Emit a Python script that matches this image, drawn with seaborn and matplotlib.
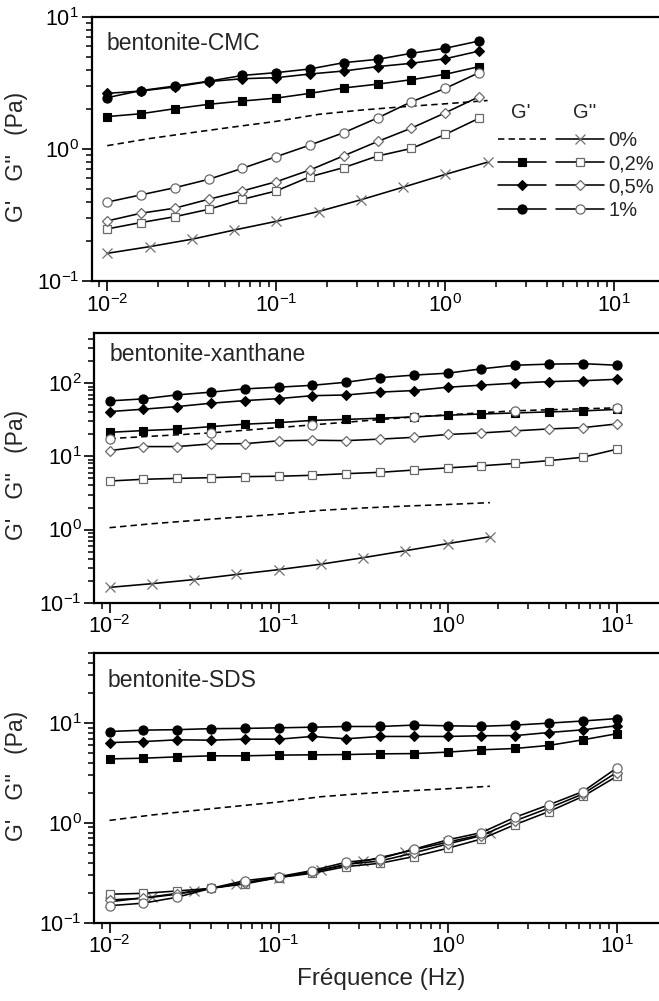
import matplotlib
matplotlib.use("Agg")
import matplotlib.pyplot as plt
import seaborn as sns
from matplotlib.lines import Line2D
from matplotlib.legend_handler import HandlerTuple
from matplotlib.ticker import LogLocator, NullFormatter, LogFormatterMathtext

# ---------------------------------------------------------------- data
# frequency sweeps (Hz)
freq = [0.01, 0.0158, 0.0251, 0.0398, 0.0631, 0.1, 0.158, 0.251, 0.398,
        0.631, 1.0, 1.585, 2.51, 3.98, 6.31, 10.0]
freq_ref = [0.01, 0.0178, 0.0316, 0.0562, 0.1, 0.178, 0.316, 0.562, 1.0, 1.78]
freq_xan_1pct_gpp = [0.01, 0.0398, 0.158, 0.631, 2.51, 10.0]

# bentonite alone (0 %), same reference curve in every panel
ref_gp = [1.06, 1.20, 1.33, 1.47, 1.62, 1.83, 1.97, 2.09, 2.20, 2.33]
ref_gpp = [0.162, 0.182, 0.207, 0.243, 0.283, 0.336, 0.412, 0.513, 0.642, 0.795]

# bentonite-CMC (12 frequencies)
cmc_gp_02 = [1.76, 1.85, 2.02, 2.18, 2.31, 2.43, 2.64, 2.90, 3.10, 3.35, 3.68, 4.21]
cmc_gp_05 = [2.64, 2.75, 2.95, 3.24, 3.41, 3.47, 3.70, 3.90, 4.21, 4.46, 4.83, 5.52]
cmc_gp_1 = [2.45, 2.77, 3.00, 3.26, 3.61, 3.79, 4.04, 4.51, 4.78, 5.31, 5.80, 6.58]
cmc_gpp_02 = [0.248, 0.277, 0.307, 0.349, 0.416, 0.481, 0.616, 0.723, 0.885, 1.01, 1.29, 1.71]
cmc_gpp_05 = [0.285, 0.326, 0.356, 0.416, 0.481, 0.565, 0.693, 0.889, 1.14, 1.44, 1.88, 2.49]
cmc_gpp_1 = [0.396, 0.449, 0.509, 0.589, 0.714, 0.875, 1.07, 1.33, 1.72, 2.28, 2.88, 3.79]

# bentonite-xanthane
xan_gp_02 = [21.3, 22.5, 23.5, 25.5, 27.5, 28.9, 31.0, 32.0, 33.2, 34.6, 36.5, 37.9,
             39.2, 40.5, 41.8, 43.8]
xan_gp_05 = [40.9, 44.1, 47.9, 53.2, 57.8, 61.5, 67.5, 69.0, 75.5, 79.3, 88.0, 94.0,
             100.0, 105.0, 108.0, 113.0]
xan_gp_1 = [57.3, 61.0, 69.2, 75.4, 83.6, 88.2, 93.5, 103.0, 119.0, 129.0, 137.0, 157.0,
            176.0, 182.0, 185.0, 176.0]
xan_gpp_02 = [4.60, 4.86, 5.00, 5.11, 5.28, 5.35, 5.51, 5.80, 6.05, 6.50, 6.95, 7.43,
              8.00, 8.74, 9.72, 12.5]
xan_gpp_05 = [12.0, 13.6, 13.6, 14.8, 14.9, 16.3, 16.6, 16.4, 17.2, 18.2, 19.9, 20.9,
              22.3, 23.7, 24.7, 27.7]
xan_gpp_1 = [17.5, 20.9, 26.9, 34.6, 42.0, 46.0]

# bentonite-SDS
sds_gp_02 = [4.38, 4.45, 4.59, 4.70, 4.70, 4.78, 4.81, 4.84, 4.92, 4.95, 5.12, 5.40,
             5.57, 5.98, 6.80, 7.82]
sds_gp_05 = [6.38, 6.53, 6.80, 6.75, 6.90, 6.90, 7.35, 6.97, 7.35, 7.35, 7.35, 7.47,
             7.50, 8.05, 8.57, 9.40]
sds_gp_1 = [8.24, 8.50, 8.60, 8.80, 8.85, 8.97, 9.10, 9.25, 9.25, 9.55, 9.40, 9.30,
            9.55, 10.0, 10.5, 11.1]
sds_gpp_02 = [0.193, 0.197, 0.208, 0.221, 0.245, 0.283, 0.313, 0.365, 0.394, 0.460,
              0.557, 0.690, 0.962, 1.30, 1.84, 2.92]
sds_gpp_05 = [0.169, 0.176, 0.193, 0.221, 0.252, 0.285, 0.322, 0.385, 0.415, 0.500,
              0.615, 0.745, 1.05, 1.41, 1.95, 3.20]
sds_gpp_1 = [0.148, 0.157, 0.180, 0.221, 0.264, 0.289, 0.333, 0.404, 0.438, 0.545,
             0.676, 0.800, 1.14, 1.52, 2.06, 3.54]

conc_labels = ["0%", "0,2%", "0,5%", "1%"]
panel_titles = ["bentonite-CMC", "bentonite-xanthane", "bentonite-SDS"]

# ---------------------------------------------------------------- style
sns.set_style("ticks")
plt.rcParams["font.family"] = ["Liberation Sans", "DejaVu Sans"]
plt.rcParams["mathtext.fontset"] = "custom"
plt.rcParams["mathtext.rm"] = "Liberation Sans"
plt.rcParams["mathtext.it"] = "Liberation Sans:italic"
plt.rcParams["mathtext.default"] = "regular"
plt.rcParams["axes.unicode_minus"] = False

OPEN_EDGE = "#6a6a6a"
LW = 1.15
DASH = (0, (4.0, 2.6))

style_gp = {
    "0,2%": dict(marker="s", ms=5.6, mfc="black", mec="black", mew=0.8),
    "0,5%": dict(marker="D", ms=5.3, mfc="black", mec="black", mew=0.8),
    "1%": dict(marker="o", ms=6.6, mfc="black", mec="black", mew=0.8),
}
style_gpp = {
    "0,2%": dict(marker="s", ms=5.6, mfc="white", mec=OPEN_EDGE, mew=0.9),
    "0,5%": dict(marker="D", ms=5.3, mfc="white", mec=OPEN_EDGE, mew=0.9),
    "1%": dict(marker="o", ms=6.6, mfc="white", mec=OPEN_EDGE, mew=0.9),
}
style_x = dict(marker="x", ms=7.5, mec="#707070", mew=0.9)


def curve(ax, x, y, ls="-", **mk):
    sns.lineplot(x=x[:len(y)], y=y, ax=ax, color="black", lw=LW, linestyle=ls,
                 estimator=None, sort=False, legend=False, **mk)


def reference(ax):
    curve(ax, freq_ref, ref_gp, ls=DASH)
    curve(ax, freq_ref, ref_gpp, **style_x)


fig = plt.figure(figsize=(6.59, 10.01), dpi=100)
W = 0.8695
ax1 = fig.add_axes([0.1396, 0.7193, W, 0.2637])
ax2 = fig.add_axes([0.1431, 0.3979, W, 0.2691])
ax3 = fig.add_axes([0.1431, 0.0782, W, 0.2691])
axes = [ax1, ax2, ax3]
ylims = [(0.1, 10), (0.1, 480), (0.1, 50)]

for ax in axes:
    ax.set_xscale("log")
    ax.set_yscale("log")

# --- bentonite-CMC
reference(ax1)
curve(ax1, freq, cmc_gp_02, **style_gp["0,2%"])
curve(ax1, freq, cmc_gp_05, **style_gp["0,5%"])
curve(ax1, freq, cmc_gp_1, **style_gp["1%"])
curve(ax1, freq, cmc_gpp_02, **style_gpp["0,2%"])
curve(ax1, freq, cmc_gpp_05, **style_gpp["0,5%"])
curve(ax1, freq, cmc_gpp_1, **style_gpp["1%"])

# --- bentonite-xanthane
reference(ax2)
curve(ax2, freq, xan_gpp_02, **style_gpp["0,2%"])
curve(ax2, freq, xan_gpp_05, **style_gpp["0,5%"])
curve(ax2, freq, xan_gp_02, **style_gp["0,2%"])
curve(ax2, freq_xan_1pct_gpp, xan_gpp_1, ls=DASH, **style_gpp["1%"])
curve(ax2, freq, xan_gp_05, **style_gp["0,5%"])
curve(ax2, freq, xan_gp_1, **style_gp["1%"])

# --- bentonite-SDS
reference(ax3)
curve(ax3, freq, sds_gp_02, **style_gp["0,2%"])
curve(ax3, freq, sds_gp_05, **style_gp["0,5%"])
curve(ax3, freq, sds_gp_1, **style_gp["1%"])
curve(ax3, freq, sds_gpp_02, **style_gpp["0,2%"])
curve(ax3, freq, sds_gpp_05, **style_gpp["0,5%"])
curve(ax3, freq, sds_gpp_1, **style_gpp["1%"])

# ---------------------------------------------------------------- axes cosmetics
title_pos = [(0.026, 0.90), (0.027, 0.92), (0.023, 0.90)]
ylab_pos = [(-0.112, 0.47), (-0.116, 0.474), (-0.116, 0.545)]
for ax, title, ylim, tp, yp in zip(axes, panel_titles, ylims, title_pos, ylab_pos):
    ax.set_xlim(10 ** -2.09, 10 ** 1.30)
    ax.set_ylim(*ylim)
    for side in ("left", "bottom", "top"):
        ax.spines[side].set_linewidth(1.6)
        ax.spines[side].set_color("black")
    ax.spines["right"].set_visible(False)
    ax.xaxis.set_major_locator(LogLocator(base=10, numticks=10))
    ax.xaxis.set_minor_locator(LogLocator(base=10, subs=range(2, 10), numticks=40))
    ax.yaxis.set_major_locator(LogLocator(base=10, numticks=10))
    ax.yaxis.set_minor_locator(LogLocator(base=10, subs=range(2, 10), numticks=40))
    ax.xaxis.set_major_formatter(LogFormatterMathtext())
    ax.yaxis.set_major_formatter(LogFormatterMathtext())
    ax.xaxis.set_minor_formatter(NullFormatter())
    ax.yaxis.set_minor_formatter(NullFormatter())
    ax.tick_params(which="major", direction="out", length=7.2, width=1.2,
                   labelsize=15.5, pad=2, colors="black")
    ax.tick_params(which="minor", direction="out", length=4.3, width=1.1,
                   colors="black")
    ax.tick_params(top=False, right=False, which="both")
    ax.text(tp[0], tp[1], title, transform=ax.transAxes, fontsize=16.5,
            ha="left", va="center")
    ax.set_ylabel("G'   G''   (Pa)", fontsize=16.5)
    ax.yaxis.set_label_coords(*yp)
    ax.set_xlabel("")

ax3.set_xlabel("Fréquence (Hz)", fontsize=17.5, labelpad=7)

# ---------------------------------------------------------------- legend
gp_handles = [Line2D([], [], color="black", lw=LW, linestyle=DASH)] + [
    Line2D([], [], color="black", lw=LW, **style_gp[k]) for k in conc_labels[1:]]
gpp_handles = [Line2D([], [], color="black", lw=LW, **style_x)] + [
    Line2D([], [], color="black", lw=LW, **style_gpp[k]) for k in conc_labels[1:]]
ax1.legend(handles=list(zip(gp_handles, gpp_handles)), labels=conc_labels,
           handler_map={tuple: HandlerTuple(ndivide=None, pad=0.5)},
           handlelength=5.3, handletextpad=0.2, labelspacing=0.21,
           numpoints=1, frameon=False, fontsize=14.5, loc="upper left",
           bbox_to_anchor=(0.708, 0.568), borderaxespad=0, borderpad=0)
ax1.text(0.748, 0.637, "G'", transform=ax1.transAxes, fontsize=14.5,
         ha="center", va="center")
ax1.text(0.860, 0.637, "G''", transform=ax1.transAxes, fontsize=14.5,
         ha="center", va="center")

fig.savefig("out.png", dpi=100)
